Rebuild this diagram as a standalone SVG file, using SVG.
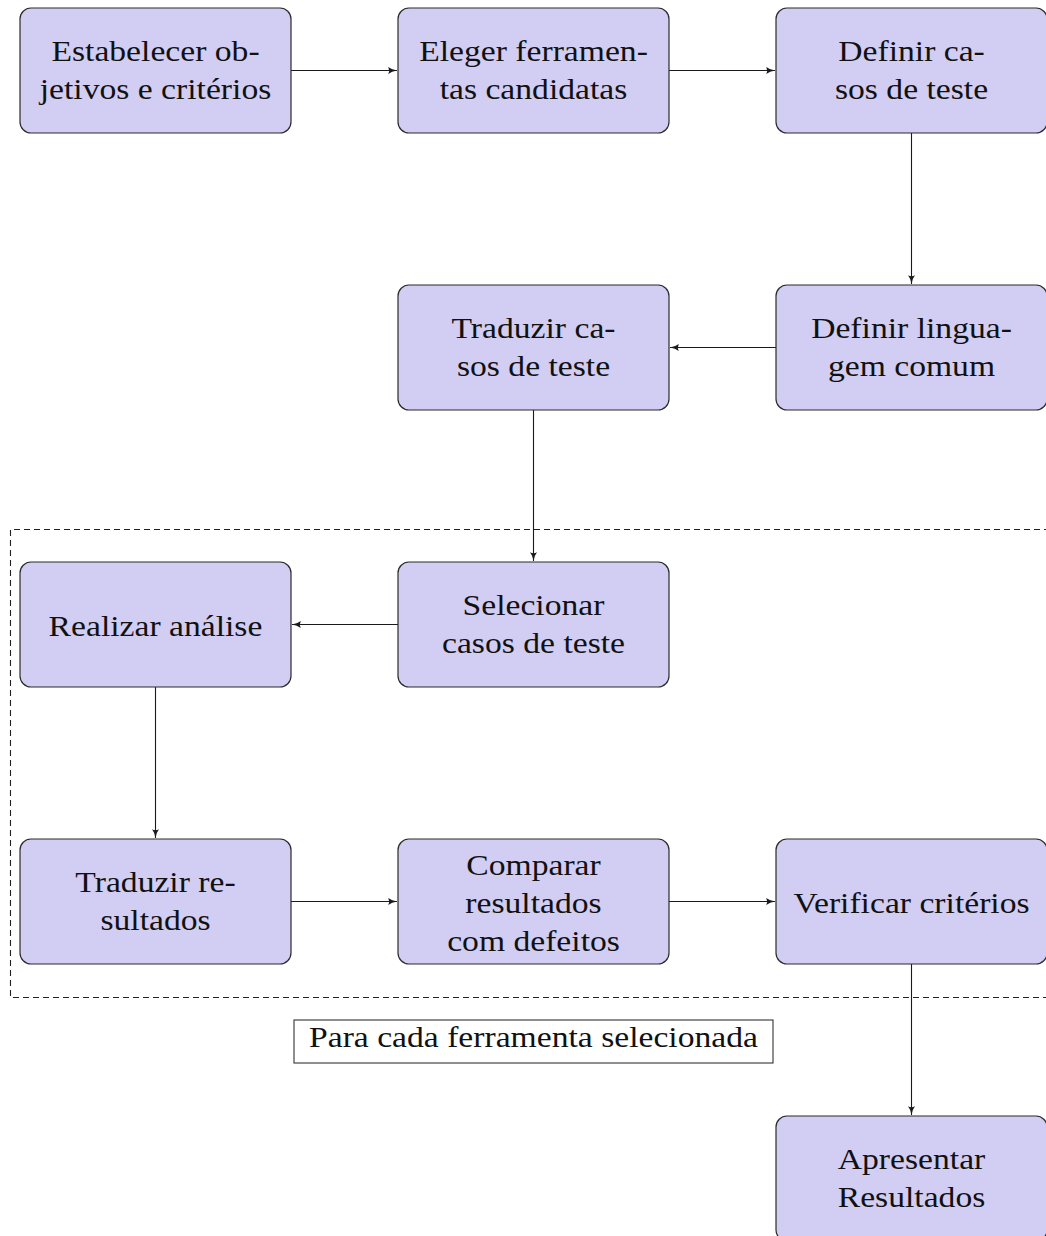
<svg xmlns="http://www.w3.org/2000/svg" width="1046" height="1236" viewBox="0 0 1046 1236">
<defs>
<style>
.node rect{fill:#d2cdf2;stroke:#2b2b2b;stroke-width:1.2}
.node text,.lbl text{font-family:"Liberation Serif","DejaVu Serif",serif;font-size:29px;fill:#111;text-anchor:middle}
.conn path{fill:none;stroke:#1a1a1a;stroke-width:1.1;marker-end:url(#ah)}
.frame{fill:none;stroke:#222;stroke-width:1.1;stroke-dasharray:6 4}
.lbl rect{fill:#fff;stroke:#333;stroke-width:1.1}
</style>
<marker id="ah" viewBox="0 0 10 8" refX="10" refY="4" markerWidth="9" markerHeight="7" markerUnits="userSpaceOnUse" orient="auto">
<path d="M0,0 Q4,3.2 10,4 Q4,4.8 0,8 Q2,4 0,0 Z" fill="#1a1a1a"/>
</marker>
</defs>
<rect width="1046" height="1236" fill="#fff"/>
<path class="frame" d="M1050,529.5 H10.5 V997.5 H1050"/>
<g class="conn">
<path d="M291,70.5 H397"/>
<path d="M669,70.5 H775"/>
<path d="M911.5,133 V284"/>
<path d="M776,347.5 H670"/>
<path d="M533.5,410 V561"/>
<path d="M398,624.5 H292"/>
<path d="M155.5,687 V838"/>
<path d="M291,901.5 H397"/>
<path d="M669,901.5 H775"/>
<path d="M911.5,964 V1115"/>
</g>
<g id="n1" class="node"><rect x="20" y="8" width="271" height="125" rx="11"/><g transform="translate(155.5 0) scale(1.16 1)"><text x="0" y="61">Estabelecer ob-</text><text x="0" y="99">jetivos e critérios</text></g></g>
<g id="n2" class="node"><rect x="398" y="8" width="271" height="125" rx="11"/><g transform="translate(533.5 0) scale(1.16 1)"><text x="0" y="61">Eleger ferramen-</text><text x="0" y="99">tas candidatas</text></g></g>
<g id="n3" class="node"><rect x="776" y="8" width="271" height="125" rx="11"/><g transform="translate(911.5 0) scale(1.16 1)"><text x="0" y="61">Definir ca-</text><text x="0" y="99">sos de teste</text></g></g>
<g id="n4" class="node"><rect x="776" y="285" width="271" height="125" rx="11"/><g transform="translate(911.5 0) scale(1.16 1)"><text x="0" y="338">Definir lingua-</text><text x="0" y="376">gem comum</text></g></g>
<g id="n5" class="node"><rect x="398" y="285" width="271" height="125" rx="11"/><g transform="translate(533.5 0) scale(1.16 1)"><text x="0" y="338">Traduzir ca-</text><text x="0" y="376">sos de teste</text></g></g>
<g id="n6" class="node"><rect x="398" y="562" width="271" height="125" rx="11"/><g transform="translate(533.5 0) scale(1.16 1)"><text x="0" y="615">Selecionar</text><text x="0" y="653">casos de teste</text></g></g>
<g id="n7" class="node"><rect x="20" y="562" width="271" height="125" rx="11"/><g transform="translate(155.5 0) scale(1.16 1)"><text x="0" y="636">Realizar análise</text></g></g>
<g id="n8" class="node"><rect x="20" y="839" width="271" height="125" rx="11"/><g transform="translate(155.5 0) scale(1.16 1)"><text x="0" y="892">Traduzir re-</text><text x="0" y="930">sultados</text></g></g>
<g id="n9" class="node"><rect x="398" y="839" width="271" height="125" rx="11"/><g transform="translate(533.5 0) scale(1.16 1)"><text x="0" y="875">Comparar</text><text x="0" y="913">resultados</text><text x="0" y="951">com defeitos</text></g></g>
<g id="n10" class="node"><rect x="776" y="839" width="271" height="125" rx="11"/><g transform="translate(911.5 0) scale(1.16 1)"><text x="0" y="913">Verificar critérios</text></g></g>
<g id="n11" class="node"><rect x="776" y="1116" width="271" height="125" rx="11"/><g transform="translate(911.5 0) scale(1.16 1)"><text x="0" y="1169">Apresentar</text><text x="0" y="1207">Resultados</text></g></g>
<g id="label" class="lbl"><rect x="294" y="1020" width="479" height="43"/><g transform="translate(533.5 0) scale(1.16 1)"><text x="0" y="1047">Para cada ferramenta selecionada</text></g></g>
</svg>
